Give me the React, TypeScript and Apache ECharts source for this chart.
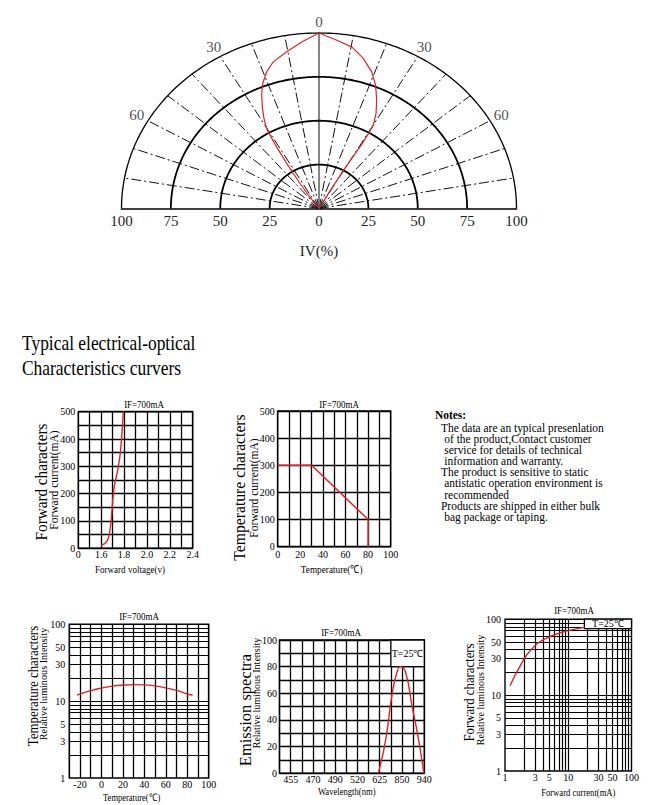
import React, { useEffect, useRef } from 'react';
import * as echarts from 'echarts';

const SERIF = '"Liberation Serif", "Times New Roman", serif';
const RED = '#d7262b';

// ---------- Polar radiation pattern ----------
const patternAngles = [-36, -35, -34, -32.5, -31.5, -30.8, -30.2, -28.5, -26.4, -23.9, -21.8, -18.8, -15.5, -10.4, -5, 0, 5, 10.2, 14.7, 18.9, 22.2, 25.3, 28.1, 30.1, 30.4, 30.6, 30, 29.5, 29.2, 29];
const patternValues = [0, 9, 17, 30, 41, 47.5, 52.7, 58.4, 64.6, 71.7, 76.7, 82.3, 86.7, 90.8, 95.5, 100, 96.5, 93.6, 88.4, 82.3, 75.9, 68.3, 61.3, 54.9, 49.5, 40.8, 31.7, 21.8, 11.8, 0];
const ringRadii = [25, 50, 75, 100];
const spokeAngles = [-80, -70, -60, -50, -40, -30, -20, -10, 10, 20, 30, 40, 50, 60, 70, 80];
const angleLabelAngles = [-60, -30, 0, 30, 60];
const angleLabelTexts = ['60', '30', '0', '30', '60'];

// ---------- Chart 1: forward voltage / current ----------
const fwdVoltage = [1.598, 1.642, 1.662, 1.677, 1.689, 1.7, 1.712, 1.729, 1.75, 1.77, 1.794];
const fwdCurrent = [10, 21, 37, 67, 110, 171, 220, 256, 299, 360, 500];
const voltageTickLabels = ['0', '', '1.6', '', '1.8', '', '2.0', '', '2.2', '', '2.4'];

// ---------- Chart 2: derating ----------
const deratingTemp = [0, 30, 80, 80];
const deratingCurrent = [300, 300, 100, 0];

// ---------- Chart 3: temperature vs relative intensity ----------
const tempC = [-23, -10, 0, 10, 20, 30, 40, 50, 60, 70, 80, 85];
const tempIntensity = [12.0, 13.7, 14.8, 15.7, 16.2, 16.4, 16.3, 15.8, 14.9, 13.8, 12.4, 12.0];

// ---------- Chart 4: emission spectrum ----------
const wavelengthTickLabels = ['', '455', '', '470', '', '490', '', '520', '', '625', '', '850', '', '940'];
const spectrumWl = [618, 682, 749, 799, 834, 864, 890, 918, 938];
const spectrumI = [0, 24, 59, 76, 80, 76, 51, 24, 0];

// ---------- Chart 5: forward current vs relative intensity ----------
const ifCurrent = [1.2, 1.8, 2.6, 4.3, 7.9, 13, 18];
const ifIntensity = [13.3, 25.6, 40, 55, 67, 74, 78];

// log axes
const logLabelValues = [1, 3, 5, 10, 30, 50, 100];
const logGridValues = [2, 3, 4, 5, 6, 7, 8, 9, 10, 20, 30, 40, 50, 60, 70, 80, 90];

const noteLines = [
  { t: 'The data are an typical presenlation', indent: false },
  { t: 'of the product,Contact customer', indent: true },
  { t: 'service for details of technical', indent: true },
  { t: 'information and warranty.', indent: true },
  { t: 'The product is sensitive to static', indent: false },
  { t: 'antistatic operation environment is', indent: true },
  { t: 'recommended', indent: true },
  { t: 'Products are shipped in either bulk', indent: false },
  { t: 'bag package or taping.', indent: true },
];

function toXY(angleDeg: number, r: number) {
  const t = (angleDeg * Math.PI) / 180;
  return [r * Math.sin(t), r * Math.cos(t)];
}

function wlToPos(w: number) {
  const pts: [number, number][] = [];
  wavelengthTickLabels.forEach((l, i) => { if (l) pts.push([Number(l), i]); });
  for (let i = 0; i < pts.length - 1; i++) {
    const [w0, p0] = pts[i];
    const [w1, p1] = pts[i + 1];
    if (w <= w1 || i === pts.length - 2) return p0 + ((w - w0) / (w1 - w0)) * (p1 - p0);
  }
  return 0;
}

const gridLine = { show: true, lineStyle: { color: '#000', width: 1.3 } };
const lbl = (margin: number, extra: any = {}) => ({ color: '#000', fontSize: 10, fontFamily: SERIF, margin, ...extra });

function smallAxis(gridIndex: number, o: any) {
  return {
    gridIndex,
    type: 'value',
    axisLine: { show: false },
    axisTick: { show: false },
    splitLine: gridLine,
    ...o,
  };
}

function T(text: string, x: number, y: number, size: number, o: any = {}) {
  return {
    type: 'text',
    x,
    y,
    rotation: o.rot || 0,
    scaleX: o.sx || 1,
    silent: true,
    style: {
      text,
      fontSize: size,
      fontFamily: SERIF,
      fontWeight: o.bold ? 'bold' : 'normal',
      fill: '#000',
      textAlign: o.align || 'center',
      textVerticalAlign: 'middle',
    },
  };
}

function buildOption() {
  const ROT = Math.PI / 2;
  const logFmt = (v: number) => String(Math.round(Math.pow(10, v)));
  const logLabels = logLabelValues.map((v) => Math.log10(v));

  const series: any[] = [];
  // polar spokes
  spokeAngles.forEach((a) => {
    series.push({
      type: 'line', xAxisIndex: 0, yAxisIndex: 0, clip: false, silent: true, symbol: 'none', z: 2,
      data: [[0, 0], toXY(a, 100)],
      lineStyle: { color: '#111', width: 1, type: [10, 3, 2, 3] },
    });
  });
  series.push({
    type: 'line', xAxisIndex: 0, yAxisIndex: 0, clip: false, silent: true, symbol: 'none', z: 2,
    data: [[0, 0], [0, 100]],
    lineStyle: { color: '#666', width: 1.6 },
  });
  ringRadii.forEach((r) => {
    const pts: number[][] = [];
    for (let a = -90; a <= 90; a += 1) pts.push(toXY(a, r));
    series.push({
      type: 'line', xAxisIndex: 0, yAxisIndex: 0, clip: false, silent: true, symbol: 'none', z: 3,
      data: pts,
      lineStyle: { color: '#000', width: r === 100 ? 1.3 : 1.8 },
    });
  });
  series.push({
    type: 'line', xAxisIndex: 0, yAxisIndex: 0, clip: false, silent: true, symbol: 'none', z: 4,
    data: patternAngles.map((a, i) => toXY(a, patternValues[i])),
    lineStyle: { color: RED, width: 1.2 },
  });
  series.push({
    type: 'scatter', xAxisIndex: 0, yAxisIndex: 0, clip: false, silent: true, symbolSize: 1,
    itemStyle: { color: 'rgba(0,0,0,0)' },
    label: { show: true, position: 'inside', formatter: '{b}', fontSize: 15, fontFamily: SERIF, color: '#222' },
    data: angleLabelAngles.map((a, i) => ({ name: angleLabelTexts[i], value: toXY(a, 106.5) })),
  });

  // chart 1
  series.push({
    type: 'line', xAxisIndex: 1, yAxisIndex: 1, symbol: 'none', smooth: 0.3, z: 10, silent: true,
    data: fwdVoltage.map((v, i) => [v, fwdCurrent[i]]),
    lineStyle: { color: RED, width: 1.4 },
  });
  // chart 2
  series.push({
    type: 'line', xAxisIndex: 2, yAxisIndex: 2, symbol: 'none', z: 10, silent: true,
    data: deratingTemp.map((t, i) => [t, deratingCurrent[i]]),
    lineStyle: { color: RED, width: 1.5 },
  });
  // chart 3
  series.push({
    type: 'line', xAxisIndex: 3, yAxisIndex: 3, symbol: 'none', z: 1, silent: true,
    data: [[-30, 0]],
    markLine: {
      silent: true, symbol: ['none', 'none'], animation: false, label: { show: false },
      lineStyle: { color: '#000', width: 1.2, type: 'solid' },
      data: logGridValues.map((v) => ({ yAxis: Math.log10(v) })),
    },
  });
  series.push({
    type: 'line', xAxisIndex: 3, yAxisIndex: 3, symbol: 'none', smooth: true, z: 10, silent: true,
    data: tempC.map((t, i) => [t, Math.log10(tempIntensity[i])]),
    lineStyle: { color: RED, width: 1.4 },
  });
  // chart 4
  series.push({
    type: 'line', xAxisIndex: 4, yAxisIndex: 4, symbol: 'none', z: 1, silent: true,
    data: [[0, 0]],
    markArea: {
      z: 6, silent: true, animation: false,
      itemStyle: { color: '#fff', borderColor: '#000', borderWidth: 1.3 },
      label: { show: true, position: 'inside', color: '#000', fontSize: 10, fontFamily: SERIF },
      data: [[{ name: 'T=25℃', xAxis: 10, yAxis: 80 }, { xAxis: 13, yAxis: 100 }]],
    },
  });
  series.push({
    type: 'line', xAxisIndex: 4, yAxisIndex: 4, symbol: 'none', smooth: true, z: 10, silent: true,
    data: spectrumWl.map((w, i) => [wlToPos(w), spectrumI[i]]),
    lineStyle: { color: RED, width: 1.4 },
  });
  // chart 5
  series.push({
    type: 'line', xAxisIndex: 5, yAxisIndex: 5, symbol: 'none', z: 1, silent: true,
    data: [[0, 0]],
    markLine: {
      silent: true, symbol: ['none', 'none'], animation: false, label: { show: false },
      lineStyle: { color: '#000', width: 1.2, type: 'solid' },
      data: [
        ...logGridValues.map((v) => ({ yAxis: Math.log10(v) })),
        ...logGridValues.map((v) => ({ xAxis: Math.log10(v) })),
      ],
    },
    markArea: {
      z: 6, silent: true, animation: false,
      itemStyle: { color: '#fff', borderColor: '#000', borderWidth: 1.3 },
      label: { show: true, position: 'inside', color: '#000', fontSize: 10, fontFamily: SERIF },
      data: [[{ name: 'T=25℃', xAxis: Math.log10(18), yAxis: Math.log10(75) }, { xAxis: 2, yAxis: 2 }]],
    },
  });
  series.push({
    type: 'line', xAxisIndex: 5, yAxisIndex: 5, symbol: 'none', smooth: true, z: 10, silent: true,
    data: ifCurrent.map((c, i) => [Math.log10(c), Math.log10(ifIntensity[i])]),
    lineStyle: { color: RED, width: 1.4 },
  });

  const frame = { show: true, borderColor: '#000', borderWidth: 1.4, backgroundColor: 'transparent' };

  const graphic: any[] = [
    T('Typical electrical-optical', 22, 342.5, 21, { align: 'left', sx: 0.83 }),
    T('Characteristics curvers', 22, 367.5, 21, { align: 'left', sx: 0.83 }),
    T('Notes:', 435, 415, 13, { align: 'left', sx: 0.88, bold: true }),
    ...noteLines.map((l, i) => T(l.t, l.indent ? 444.3 : 441, 427.7 + i * 11.1, 13, { align: 'left', sx: 0.88 })),
    T('IF=700mA', 144, 404.3, 10.5, { sx: 0.85 }),
    T('IF=700mA', 339, 404.3, 10.5, { sx: 0.85 }),
    T('IF=700mA', 139, 616, 10.5, { sx: 0.85 }),
    T('IF=700mA', 341, 632.5, 10.5, { sx: 0.85 }),
    T('IF=700mA', 574, 610.5, 10.5, { sx: 0.85 }),
    T('Forward voltage(v)', 130, 569, 11, { sx: 0.82 }),
    T('Temperature(℃)', 331.7, 569, 11, { sx: 0.84 }),
    T('Temperature(℃)', 131.7, 796.7, 10.5, { sx: 0.81 }),
    T('Wavelength(nm)', 346.7, 790.7, 10.5, { sx: 0.82 }),
    T('Forward current(mA)', 578.3, 791.7, 10.5, { sx: 0.82 }),
    T('Forward characters', 41, 482, 16, { rot: ROT, sx: 0.95 }),
    T('Forward current(mA)', 53.5, 480, 11.5, { rot: ROT }),
    T('Temperature characters', 239, 487.5, 16, { rot: ROT, sx: 0.98 }),
    T('Forward current(mA)', 253.5, 488, 11.5, { rot: ROT }),
    T('Temperature characters', 32.7, 686, 15, { rot: ROT, sx: 0.86 }),
    T('Relative luminous Intensity', 43.3, 684, 10.5, { rot: ROT, sx: 0.97 }),
    T('Emission spectra', 245, 710, 16.5, { rot: ROT }),
    T('Relative luminous Intensity', 256.7, 693, 10, { rot: ROT }),
    T('Forward characters', 469, 692.5, 15, { rot: ROT, sx: 0.85 }),
    T('Relative luminous Intensity', 480, 690, 10, { rot: ROT }),
  ];

  return {
    animation: false,
    backgroundColor: '#fff',
    grid: [
      { left: 121.5, top: 33, width: 395, height: 175.5 },
      { left: 78.3, top: 411.7, width: 114.4, height: 136.6, ...frame },
      { left: 277.7, top: 411, width: 113, height: 135.7, ...frame },
      { left: 69.3, top: 624.3, width: 139.4, height: 153.7, ...frame },
      { left: 279.5, top: 640, width: 144.8, height: 133.3, ...frame },
      { left: 505, top: 619.2, width: 126.5, height: 151.8, ...frame },
    ],
    xAxis: [
      {
        gridIndex: 0, type: 'value', min: -100, max: 100, interval: 25,
        axisLine: { show: true, onZero: false, lineStyle: { color: '#000', width: 1.6 } },
        axisTick: { show: false }, splitLine: { show: false },
        axisLabel: { formatter: (v: number) => String(Math.abs(v)), fontSize: 15, fontFamily: SERIF, color: '#222', margin: 5 },
        name: 'IV(%)', nameLocation: 'middle', nameGap: 35,
        nameTextStyle: { fontSize: 15, fontFamily: SERIF, color: '#222' },
      },
      smallAxis(1, { min: 1.4, max: 2.4, interval: 0.1, axisLabel: lbl(1, { formatter: (v: number) => voltageTickLabels[Math.round((v - 1.4) * 10)] || '' }) }),
      smallAxis(2, { min: 0, max: 100, interval: 10, axisLabel: lbl(2.5, { formatter: (v: number) => (v % 20 === 0 ? String(v) : '') }) }),
      smallAxis(3, { min: -30, max: 100, interval: 10, axisLabel: lbl(1, { formatter: (v: number) => (v % 20 === 0 ? String(v) : '') }) }),
      smallAxis(4, { min: 0, max: 13, interval: 1, axisLabel: lbl(1, { formatter: (v: number) => wavelengthTickLabels[Math.round(v)] || '' }) }),
      smallAxis(5, { min: 0, max: 2, splitLine: { show: false }, axisLabel: lbl(1, { customValues: logLabels, formatter: logFmt }) }),
    ],
    yAxis: [
      { gridIndex: 0, type: 'value', min: 0, max: 100, show: false },
      smallAxis(1, { min: 0, max: 500, interval: 50, axisLabel: lbl(3, { formatter: (v: number) => (v % 100 === 0 ? String(v) : '') }) }),
      smallAxis(2, { min: 0, max: 500, interval: 100, axisLabel: lbl(3) }),
      smallAxis(3, { min: 0, max: 2, splitLine: { show: false }, axisLabel: lbl(4, { customValues: logLabels, formatter: logFmt }) }),
      smallAxis(4, { min: 0, max: 100, interval: 10, axisLabel: lbl(2.5, { formatter: (v: number) => (v % 20 === 0 ? String(v) : '') }) }),
      smallAxis(5, { min: 0, max: 2, splitLine: { show: false }, axisLabel: lbl(4, { customValues: logLabels, formatter: logFmt }) }),
    ],
    series,
    graphic,
  };
}

export default function App() {
  const ref = useRef<HTMLDivElement>(null);
  useEffect(() => {
    if (!ref.current) return;
    const chart = echarts.init(ref.current, null, { renderer: 'svg' });
    chart.setOption(buildOption() as any);
    return () => chart.dispose();
  }, []);
  return (
    <div
      ref={ref}
      style={{ position: 'absolute', left: 0, top: 0, width: 661, height: 805, background: '#fff' }}
    />
  );
}
